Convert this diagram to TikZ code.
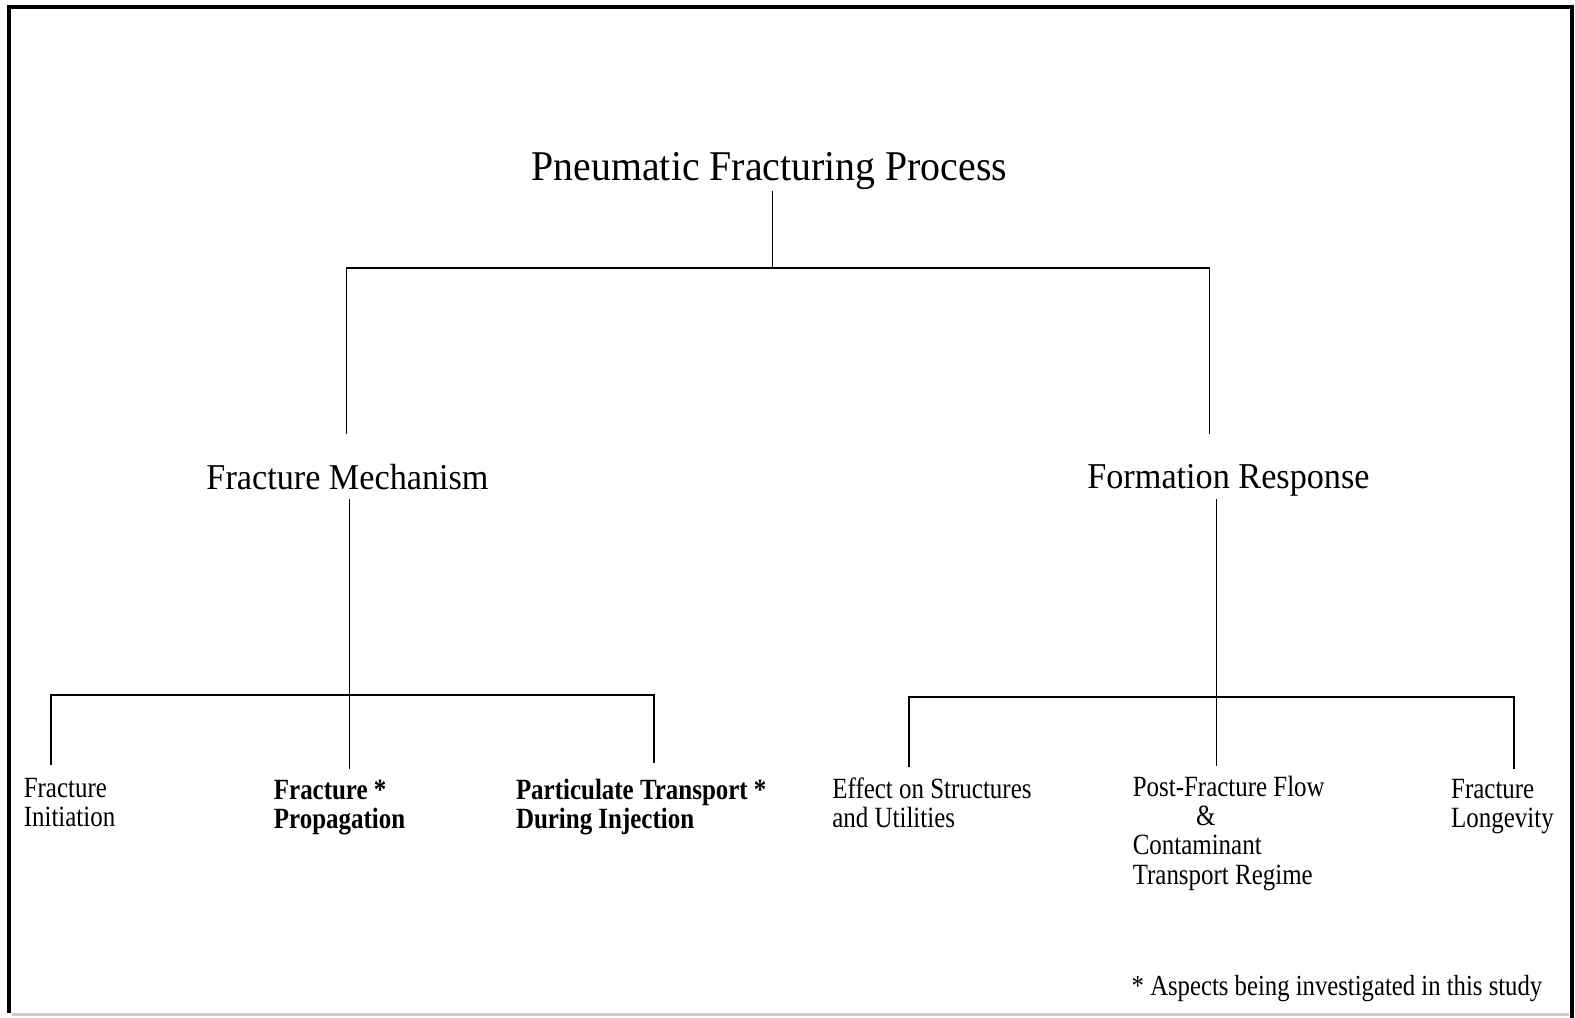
\documentclass[tikz,border=0pt]{standalone}
\usepackage{fontspec}
\setmainfont{Liberation Serif}
\newfontfamily\titlefont[FakeStretch=0.94]{Liberation Serif}
\newfontfamily\midfont[FakeStretch=0.94]{Liberation Serif}
\newfontfamily\leaffont[FakeStretch=0.85]{Liberation Serif}
% stacked lines whose baseline is the first line
\newcommand\stack[1]{\vtop{\baselineskip=8.3pt\lineskiplimit=-10pt #1}}
\tikzset{
  link/.style={line width=0.5pt, draw=black},
  frame/.style={line width=0.9pt, draw=black},
  toptitle/.style={inner sep=0pt, anchor=base, font=\titlefont\fontsize{12.05}{14}\selectfont},
  branch/.style={inner sep=0pt, anchor=base, font=\midfont\fontsize{10.35}{12}\selectfont},
  leaf/.style={inner sep=0pt, anchor=base west, font=\leaffont\fontsize{8.35}{8.3}\selectfont},
  boldleaf/.style={leaf, font=\leaffont\bfseries\fontsize{8.35}{8.3}\selectfont},
  footnote/.style={leaf, font=\leaffont\fontsize{8.27}{8.3}\selectfont},
}
\begin{document}
\begin{tikzpicture}[x=0.0100446cm, y=-0.0100446cm]
\useasboundingbox (0,0) rectangle (1568,1013);
\fill[white] (0,0) rectangle (1568,1013);

% outer frame
\draw[frame] (9,1008) -- (9,7) -- (1565,7) -- (1565,1013);
\draw[line width=0.6pt, black!20] (12,1010) -- (1562,1010);

% headings
\node[toptitle] (title) at (766,180) {Pneumatic Fracturing Process};
\node[branch] (mech) at (346,487) {Fracture Mechanism};
\node[branch] (resp) at (1223,486) {Formation Response};

% leaves
\node[leaf] (init) at (23,794) {\stack{\hbox{Fracture}\hbox{Initiation}}};
\node[boldleaf] (prop) at (272,796) {\stack{\hbox{Fracture *}\hbox{Propagation}}};
\node[boldleaf] (part) at (513,796) {\stack{\hbox{Particulate Transport *}\hbox{During Injection}}};
\node[leaf] (effect) at (828,795) {\stack{\hbox{Effect on Structures}\hbox{and Utilities}}};
\node[leaf] (post) at (1127,793)
  {\stack{\hbox{Post-Fracture Flow}\hbox{\hspace*{18pt}\&}\hbox{Contaminant}\hbox{Transport Regime}}};
\node[leaf] (longev) at (1444,795) {\stack{\hbox{Fracture}\hbox{Longevity}}};
\node[footnote] (note) at (1126,991) {* Aspects being investigated in this study};

% connector end points
\coordinate (t0) at (769,190);
\coordinate (t1) at (769,267);
\coordinate (jl) at (345,267);
\coordinate (jr) at (1204,267);
\coordinate (ml) at (345,432);
\coordinate (mr) at (1204,432);

\coordinate (m0) at (348,497);
\coordinate (m1) at (348,766);
\coordinate (hl0) at (51,692);
\coordinate (hl1) at (651,692);
\coordinate (l1) at (51,762);
\coordinate (l3) at (651,760);

\coordinate (r0) at (1211,497);
\coordinate (r1) at (1211,763);
\coordinate (hr0) at (905,694);
\coordinate (hr1) at (1507,694);
\coordinate (r4) at (905,764);
\coordinate (r6) at (1507,766);

% top level tree
\draw[link] (t0) -- (t1);
\draw[link] (ml) -- (jl) -- (jr) -- (mr);

% fracture mechanism branch
\draw[link] (m0) -- (m1);
\draw[link] (l1) -- (hl0) -- (hl1) -- (l3);

% formation response branch
\draw[link] (r0) -- (r1);
\draw[link] (r4) -- (hr0) -- (hr1) -- (r6);
\end{tikzpicture}
\end{document}
